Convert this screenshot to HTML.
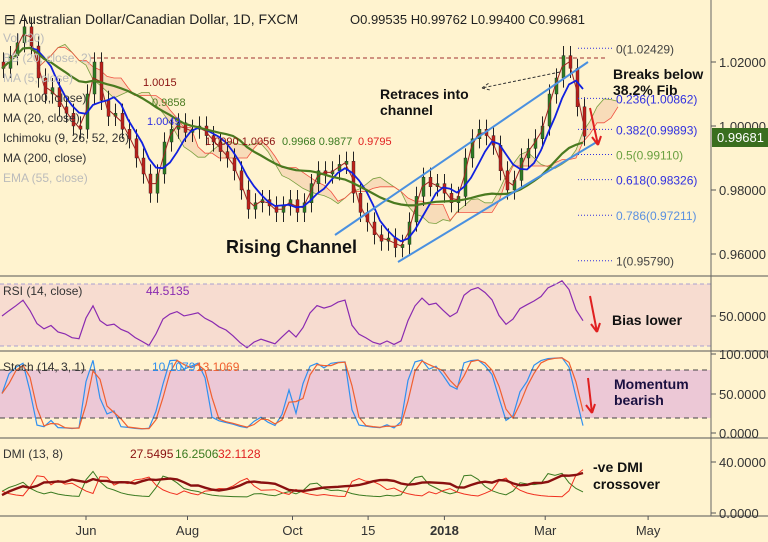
<!DOCTYPE html>
<html><head><meta charset="utf-8">
<style>
body{margin:0;background:#fff3cf;}
svg{display:block;font-family:"Liberation Sans",sans-serif;}
</style></head>
<body>
<svg id="c" width="768" height="542" viewBox="0 0 768 542">
<rect x="0" y="0" width="768" height="542" fill="#fff3cf"/>
<rect x="0" y="284" width="711" height="62" fill="#f7dcd0"/>
<rect x="0" y="370" width="711" height="48" fill="#ecc8d6"/>
<g id="marks"></g>
<g id="axes" font-size="13" fill="#222"></g>
</svg>
<script>
const closes=[1.018,1.022,1.026,1.031,1.025,1.015,1.010,1.012,1.006,1.004,1.000,0.999,1.010,1.020,1.008,1.003,1.004,0.999,0.996,0.990,0.985,0.979,0.985,0.995,0.999,1.001,0.998,0.999,1.000,0.997,0.995,0.992,0.990,0.986,0.980,0.974,0.976,0.977,0.975,0.973,0.975,0.977,0.973,0.976,0.982,0.986,0.985,0.986,0.988,0.989,0.979,0.973,0.970,0.966,0.964,0.965,0.962,0.963,0.970,0.978,0.984,0.981,0.982,0.979,0.976,0.978,0.990,0.996,0.999,0.997,0.994,0.986,0.980,0.983,0.990,0.993,0.996,1.000,1.010,1.015,1.022,1.018,1.006,0.99681];
const priceTicks=[1.02,1.00,0.98,0.96];
const fibLevels=[0,0.236,0.382,0.5,0.618,0.786,1];
const fibPrices=[1.02429,1.00862,0.99893,0.99110,0.98326,0.97211,0.95790];
const timeLabels=["Jun","Aug","Oct","15","2018","Mar","May"];
const timeIdx=[12,26.5,41.5,52.3,63.2,77.6,92.3];

const NS="http://www.w3.org/2000/svg";
const M=document.getElementById('marks'),A=document.getElementById('axes');
function el(t,a,p){const e=document.createElementNS(NS,t);for(const k in a)e.setAttribute(k,a[k]);(p||M).appendChild(e);return e;}
const xS=i=>i*7+2;
const yP=p=>126-(p-1)*3200;
const yR=v=>316-(v-50)*62/40;
const yS=v=>433-v*0.79;
const yD=v=>513-v*51/40;
function sma(a,n){return a.map((v,i)=>{let s=0,c=0;for(let j=Math.max(0,i-n+1);j<=i;j++){s+=a[j];c++;}return s/c;});}
function path(vals,xf,yf){return vals.map((v,i)=>(i?'L':'M')+xf(i).toFixed(1)+' '+yf(v).toFixed(1)).join(' ');}

const n=closes.length,shift=5;
const spanA=[],spanB=[];
for(let i=0;i<n;i++){const w=closes.slice(Math.max(0,i-9),i+1);spanB.push((Math.max(...w)+Math.min(...w))/2);const w2=closes.slice(Math.max(0,i-3),i+1);spanA.push(((Math.max(...w2)+Math.min(...w2))/2+spanB[i])/2);}
let poly=[];for(let i=0;i<n;i++)poly.push([xS(i+shift),yP(spanA[i])]);for(let i=n-1;i>=0;i--)poly.push([xS(i+shift),yP(spanB[i])]);
let e=el('polygon',{points:poly.map(p=>p.join(',')).join(' '),fill:'#f2c9a8',opacity:0.55});

e=el('path',{d:path(spanA,i=>xS(i+shift),yP),stroke:'#7aa040',fill:'none','stroke-width':0.8});

e=el('path',{d:path(spanB,i=>xS(i+shift),yP),stroke:'#f05040',fill:'none','stroke-width':0.8});


e=el('line',{x1:90,y1:58,x2:605,y2:58,stroke:'#a03030','stroke-dasharray':'4,3'});


for(let i=0;i<n;i++){const o=i?closes[i-1]:closes[i]+0.002,c=closes[i];const hi=Math.max(o,c)+0.003,lo=Math.min(o,c)-0.003;const col=c>=o?'#2e7d22':'#c0201a';
e=el('line',{x1:xS(i)+1.5,x2:xS(i)+1.5,y1:yP(hi),y2:yP(lo),stroke:'#222','stroke-width':1});

e=el('rect',{x:xS(i),y:Math.min(yP(o),yP(c)),width:3,height:Math.max(1,Math.abs(yP(o)-yP(c))),fill:col,stroke:'#222','stroke-width':0.4});
}

const ma5=sma(closes,2),ma20=sma(closes,5),ma100=sma(closes,22);
e=el('path',{d:path(ma5,xS,yP),stroke:'#a02020',fill:'none','stroke-width':1});

e=el('path',{d:path(ma20,xS,yP),stroke:'#1020e0',fill:'none','stroke-width':1.8});

e=el('path',{d:path(ma100,xS,yP),stroke:'#4a7a20',fill:'none','stroke-width':2.2});


e=el('line',{x1:335,y1:235,x2:588,y2:62,stroke:'#4a90e0','stroke-width':2});

e=el('line',{x1:398,y1:262,x2:600,y2:140,stroke:'#4a90e0','stroke-width':2});

e=el('path',{d:'M560 72 L482 88 M482 88 l7 -5 M482 88 l8 2',stroke:'#333','stroke-dasharray':'3,2',fill:'none'});


const fibCol=['#444','#3030e0','#3030e0','#6aa040','#3030e0','#5a90e0','#444'];
fibPrices.forEach((p,k)=>{let l=el('line',{x1:578,x2:612,y1:yP(p),y2:yP(p),stroke:'#3030e0','stroke-dasharray':'1,2'});

let t=el('text',{x:616,y:yP(p)+5,'font-size':12,fill:fibCol[k]});t.textContent=fibLevels[k]+'('+p.toFixed(5)+')';
});

[[590,108,598,145],[590,296,597,332],[588,378,592,413]].forEach(a=>{let g=el('path',{d:`M${a[0]} ${a[1]} L${a[2]} ${a[3]} M${a[2]} ${a[3]} l-6 -8 M${a[2]} ${a[3]} l3 -9`,stroke:'#e02020','stroke-width':2,fill:'none'});
});

// RSI (wilder-style, period 8)
const rsi=[];{let ag=0.003,al=0.003;for(let i=0;i<n;i++){const d=i?closes[i]-closes[i-1]:0;ag=(ag*7+Math.max(d,0))/8;al=(al*7+Math.max(-d,0))/8;rsi.push(100-100/(1+ag/(al||1e-9)));}}
e=el('path',{d:path(rsi.map(v=>50+(v-50)*0.7),xS,yR),stroke:'#8a2ab0',fill:'none','stroke-width':1.2});

[284,346].forEach(y=>{let l=el('line',{x1:0,x2:711,y1:y,y2:y,stroke:'#a8a0d0','stroke-dasharray':'4,3'});});
const k=closes.map((c,i)=>{const w=closes.slice(Math.max(0,i-7),i+1);const h=Math.max(...w)+0.002,l=Math.min(...w)-0.002;return (c-l)/(h-l)*100;});
const d=sma(k,2);
e=el('path',{d:path(k,xS,yS),stroke:'#3090f0',fill:'none','stroke-width':1.2});

e=el('path',{d:path(d,xS,yS),stroke:'#f06030',fill:'none','stroke-width':1.2});

[370,418].forEach(y=>{let l=el('line',{x1:0,x2:711,y1:y,y2:y,stroke:'#444','stroke-dasharray':'5,4'});});
const pdi=[],mdi=[];{let p=20,m=20;for(let i=0;i<n;i++){const dd=i?(closes[i]-closes[i-1])*3000:0;p=p*0.6+Math.max(dd,0)*0.4+5;m=m*0.6+Math.max(-dd,0)*0.4+5;pdi.push(Math.min(36,p));mdi.push(Math.min(36,m));}}
const adx=sma(pdi.map((p,i)=>14+Math.abs(p-mdi[i])*1.2),6);
e=el('path',{d:path(pdi,xS,yD),stroke:'#3a7a20',fill:'none','stroke-width':1});

e=el('path',{d:path(mdi,xS,yD),stroke:'#f03020',fill:'none','stroke-width':1});

e=el('path',{d:path(adx,xS,yD),stroke:'#8a1010',fill:'none','stroke-width':2.4});


[[0,276],[0,351],[0,438],[0,516]].forEach(s=>{let l=el('line',{x1:0,x2:768,y1:s[1],y2:s[1],stroke:'#555'},A);});
e=el('line',{x1:711,x2:711,y1:0,y2:516,stroke:'#666'},A);
function tick(y,txt,name){let l=el('line',{x1:711,x2:716,y1:y,y2:y,stroke:'#555'},A);let t=el('text',{x:719,y:y+5,'font-size':13,fill:'#333'},A);t.textContent=txt;}
priceTicks.forEach(p=>tick(yP(p),p.toFixed(5),'price-axis'));
tick(316,'50.0000','rsi-axis');tick(354,'100.0000','stoch-axis');tick(394,'50.0000','stoch-axis');tick(433,'0.0000','stoch-axis');tick(462,'40.0000','dmi-axis');tick(513,'0.0000','dmi-axis');
e=el('rect',{x:712,y:128,width:56,height:19,fill:'#3a6e1f'},A);
e=el('text',{x:717,y:142,'font-size':13,fill:'#fff'},A);e.textContent='0.99681';
timeLabels.forEach((s,i)=>{let x=xS(timeIdx[i]);let l=el('line',{x1:x,x2:x,y1:516,y2:520,stroke:'#555'},A);
let t=el('text',{x:x,y:535,'font-size':13,fill:'#333','text-anchor':'middle','font-weight':s==='2018'?'bold':'normal'},A);t.textContent=s;});
function txt(x,y,s,o,name){let t=el('text',Object.assign({x:x,y:y},o),A);t.textContent=s;}
txt(4,24,'⊟ Australian Dollar/Canadian Dollar, 1D, FXCM',{'font-size':14,fill:'#222'},'chart-title');
txt(350,24,'O0.99535  H0.99762  L0.99400  C0.99681',{'font-size':13,fill:'#222'},'ohlc-values');
const leg=[['Vol (20)',42],['BB (20, close, 2)',62],['MA (5, close)',82],['MA (100, close)',102],['MA (20, close)',122],['Ichimoku (9, 26, 52, 26)',142],['MA (200, close)',162],['EMA (55, close)',182]];
leg.forEach(l=>txt(3,l[1],l[0],{'font-size':12,fill:l[0].startsWith('Ichi')||l[0].startsWith('MA (20')||l[0].startsWith('MA (100')?'#333':'#bbb'},'legend-entry'));
txt(143,86,'1.0015',{'font-size':11,fill:'#8a1010'},'ma5-value');txt(152,106,'0.9858',{'font-size':11,fill:'#4a7a20'},'ma100-value');
txt(147,125,'1.0049',{'font-size':11,fill:'#3030e0'},'ma20-value');
txt(205,145,'1.0090  1.0056',{'font-size':11,fill:'#8a1010'},'ichimoku-values');txt(282,145,'0.9968   0.9877',{'font-size':11,fill:'#3a7a20'},'ichimoku-values-2');txt(358,145,'0.9795',{'font-size':11,fill:'#e02020'},'ichimoku-values-3');
txt(3,295,'RSI (14, close)',{'font-size':12,fill:'#333'},'rsi-legend');txt(146,295,'44.5135',{'font-size':12,fill:'#8a2ab0'},'rsi-value');
txt(3,371,'Stoch (14, 3, 1)',{'font-size':12,fill:'#333'},'stoch-legend');txt(152,371,'10.1079',{'font-size':12,fill:'#3090f0'},'stoch-k-value');txt(196,371,'13.1069',{'font-size':12,fill:'#f06030'},'stoch-d-value');
txt(3,458,'DMI (13, 8)',{'font-size':12,fill:'#333'},'dmi-legend');txt(130,458,'27.5495',{'font-size':12,fill:'#8a1010'},'adx-value');txt(175,458,'16.2506',{'font-size':12,fill:'#3a7a20'},'dmi-plus-value');txt(218,458,'32.1128',{'font-size':12,fill:'#e02020'},'dmi-minus-value');
const B={'font-size':14,'font-weight':'bold',fill:'#111'};
txt(380,99,'Retraces into',B,'annotation-retraces');txt(380,115,'channel',B,'annotation-channel');
txt(226,253,'Rising Channel',{'font-size':18,'font-weight':'bold',fill:'#111'},'annotation-rising-channel');
txt(613,79,'Breaks below',B,'annotation-breaks');txt(613,95,'38.2% Fib',B,'annotation-fib');
txt(612,325,'Bias lower',B,'annotation-bias-lower');
txt(614,389,'Momentum',Object.assign({},B,{fill:'#1a1040'}),'annotation-momentum');txt(614,405,'bearish',Object.assign({},B,{fill:'#1a1040'}),'annotation-bearish');
txt(593,472,'-ve DMI',B,'annotation-dmi');txt(593,489,'crossover',B,'annotation-crossover');
</script>
</body></html>
